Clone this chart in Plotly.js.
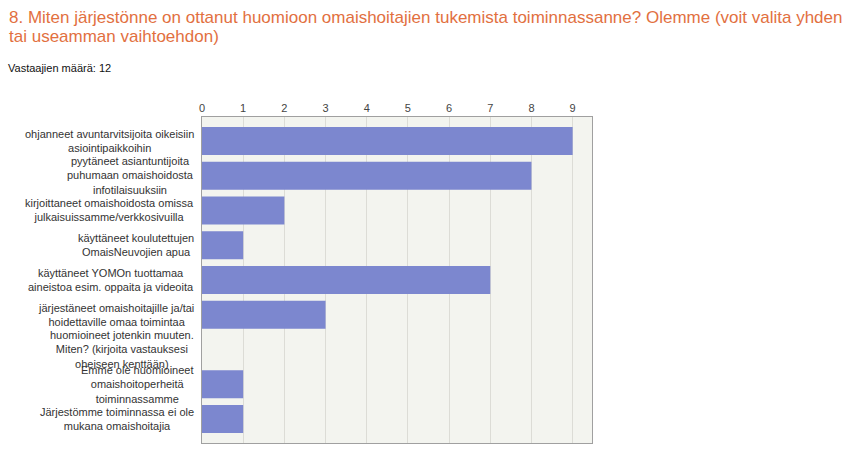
<!DOCTYPE html>
<html><head><meta charset="utf-8">
<script src="https://cdn.plot.ly/plotly-3.0.1.min.js"></script>
<style>body{margin:0;background:#fff}#c{width:851px;height:463px}</style>
</head><body><div id="c"></div>
<script>
const categories = [
  "ohjanneet avuntarvitsijoita oikeisiin<br>asiointipaikkoihin",
  "pyytäneet asiantuntijoita<br>puhumaan omaishoidosta<br>infotilaisuuksiin",
  "kirjoittaneet omaishoidosta omissa<br>julkaisuissamme/verkkosivuilla",
  "käyttäneet koulutettujen<br>OmaisNeuvojien apua",
  "käyttäneet YOMOn tuottamaa<br>aineistoa esim. oppaita ja videoita",
  "järjestäneet omaishoitajille ja/tai<br>hoidettaville omaa toimintaa",
  "huomioineet jotenkin muuten.<br>Miten? (kirjoita vastauksesi<br>oheiseen kenttään)",
  "Emme ole huomioineet<br>omaishoitoperheitä<br>toiminnassamme",
  "Järjestömme toiminnassa ei ole<br>mukana omaishoitajia"
];
const counts = [9, 8, 2, 1, 7, 3, 0, 1, 1];
const tickVals = [0,1,2,3,4,5,6,7,8,9];
const titleLines = [
  "8. Miten järjestönne on ottanut huomioon omaishoitajien tukemista toiminnassanne? Olemme (voit valita yhden",
  "tai useamman vaihtoehdon)"
];
const respondents = "Vastaajien määrä: 12";

const L = 202, R = 592, T = 117, B = 443;
const font = "Arial, 'Liberation Sans', sans-serif";
const px = x => (x - L) / (R - L);
const py = y => (B - y) / (B - T);

const annotations = categories.map((c, i) => ({
  text: c, xref: 'paper', yref: 'y', x: 0, y: i, xanchor: 'right', yanchor: 'middle',
  xshift: -6, align: 'center', showarrow: false,
  font: {family: font, size: 11, color: '#333'}
}));
titleLines.forEach((t, i) => annotations.push({
  text: t, xref: 'paper', yref: 'paper', x: px(7), y: py(17 + i * 19),
  xanchor: 'left', yanchor: 'middle', showarrow: false,
  font: {family: font, size: 17, color: '#e2703f'}
}));
annotations.push({
  text: respondents, xref: 'paper', yref: 'paper',
  x: px(6), y: py(68),
  xanchor: 'left', yanchor: 'middle', showarrow: false,
  font: {family: font, size: 11, color: '#111'}
});

Plotly.newPlot('c', [{
  type: 'bar', orientation: 'h', x: counts, y: categories.map((c,i)=>i),
  marker: {color: '#7c87cf', line: {width: 0}},
  hoverinfo: 'none'
}], {
  width: 851, height: 463,
  margin: {l: L, r: 851 - R, t: T, b: 463 - B, pad: 0},
  paper_bgcolor: '#fff', plot_bgcolor: '#f3f4ef',
  bargap: 0.194, showlegend: false,
  xaxis: {side: 'top', range: [0, 9.47], tickvals: tickVals, ticktext: tickVals.map(String),
          showgrid: true, gridcolor: '#dcdcd6', gridwidth: 1, zeroline: false,
          showline: true, linecolor: '#a0a0a0', linewidth: 1, mirror: true,
          ticks: 'outside', ticklen: 0, tickfont: {family: font, size: 11, color: '#444'}},
  yaxis: {range: [8.69, -0.69], showticklabels: false, showgrid: false, zeroline: false,
          showline: true, linecolor: '#a0a0a0', linewidth: 1, mirror: true, ticks: ''},
  annotations: annotations
}, {displayModeBar: false, staticPlot: true});
</script></body></html>
